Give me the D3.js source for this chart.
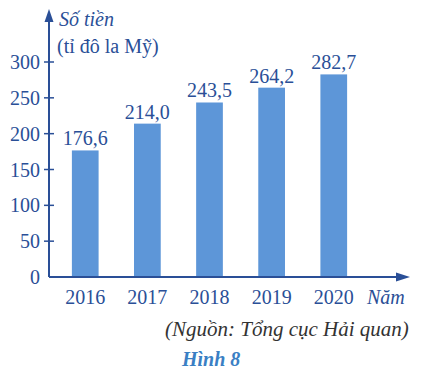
<!DOCTYPE html>
<html><head><meta charset="utf-8">
<script src="https://cdn.jsdelivr.net/npm/d3@7"></script>
<style>html,body{margin:0;padding:0;background:#fff;} svg text{font-family:"Liberation Serif","Times New Roman","DejaVu Serif",serif;}</style>
</head><body>
<svg id="c" width="435" height="379"></svg>
<script>
const years = ["2016","2017","2018","2019","2020"];
const values = [176.6, 214.0, 243.5, 264.2, 282.7];
const valueLabels = ["176,6","214,0","243,5","264,2","282,7"];
const yTicks = [0, 50, 100, 150, 200, 250, 300];

const axisColor = "#2a4f97";
const barColor = "#5d96d8";
const fs = 20;

const svg = d3.select("#c");
const x0 = 49, yBase = 277;
const y = d3.scaleLinear().domain([0, 300]).range([yBase, 62]);
const x = d3.scaleBand().domain(years).range([52, 367]).paddingInner(0.57).paddingOuter(0.32);

svg.selectAll("rect.bar").data(values).join("rect")
  .attr("class","bar")
  .attr("x", (d,i) => x(years[i]))
  .attr("width", x.bandwidth())
  .attr("y", d => y(d))
  .attr("height", d => yBase - y(d))
  .attr("fill", barColor);

svg.selectAll("text.val").data(values).join("text")
  .attr("class","val")
  .attr("x", (d,i) => x(years[i]) + x.bandwidth()/2)
  .attr("y", d => y(d) - 5)
  .attr("text-anchor","middle")
  .attr("font-size", fs)
  .attr("fill", axisColor)
  .text((d,i) => valueLabels[i]);

svg.append("line").attr("x1", x0).attr("x2", x0).attr("y1", yBase).attr("y2", 18)
  .attr("stroke", axisColor).attr("stroke-width", 2);
svg.append("path").attr("d", `M${x0},9 L${x0-4.5},22 L${x0+4.5},22 Z`).attr("fill", axisColor);

svg.append("line").attr("x1", x0).attr("x2", 400).attr("y1", yBase).attr("y2", yBase)
  .attr("stroke", axisColor).attr("stroke-width", 2);
svg.append("path").attr("d", `M410,${yBase} L396,${yBase-4.5} L396,${yBase+4.5} Z`).attr("fill", axisColor);

const tk = svg.selectAll("g.yt").data(yTicks).join("g").attr("class","yt")
  .attr("transform", d => `translate(0,${y(d)})`);
tk.filter(d => d > 0).append("line").attr("x1", x0-5).attr("x2", x0+5)
  .attr("stroke", axisColor).attr("stroke-width", 1.5);
tk.append("text").attr("x", 40).attr("y", 7).attr("text-anchor","end")
  .attr("font-size", fs).attr("fill", axisColor)
  .text(d => d);

svg.selectAll("text.xl").data(years).join("text").attr("class","xl")
  .attr("x", d => x(d) + x.bandwidth()/2).attr("y", 304)
  .attr("text-anchor","middle")
  .attr("font-size", fs).attr("fill", axisColor)
  .text(d => d);

svg.append("text").attr("x", 59).attr("y", 26)
  .attr("font-size", fs).attr("font-style","italic").attr("fill", axisColor)
  .text("Số tiền");
svg.append("text").attr("x", 57).attr("y", 53)
  .attr("font-size", fs).attr("fill", axisColor)
  .text("(tỉ đô la Mỹ)");
svg.append("text").attr("x", 367).attr("y", 304)
  .attr("font-size", fs).attr("font-style","italic").attr("fill", axisColor)
  .text("Năm");

svg.append("text").attr("x", 165).attr("y", 336)
  .attr("font-size", 21).attr("font-style","italic").attr("fill", "#333")
  .text("(Nguồn: Tổng cục Hải quan)");
svg.append("text").attr("x", 182).attr("y", 366)
  .attr("font-size", fs).attr("font-style","italic").attr("font-weight","bold").attr("fill", "#3a7fc4")
  .text("Hình 8");
</script>
</body></html>
